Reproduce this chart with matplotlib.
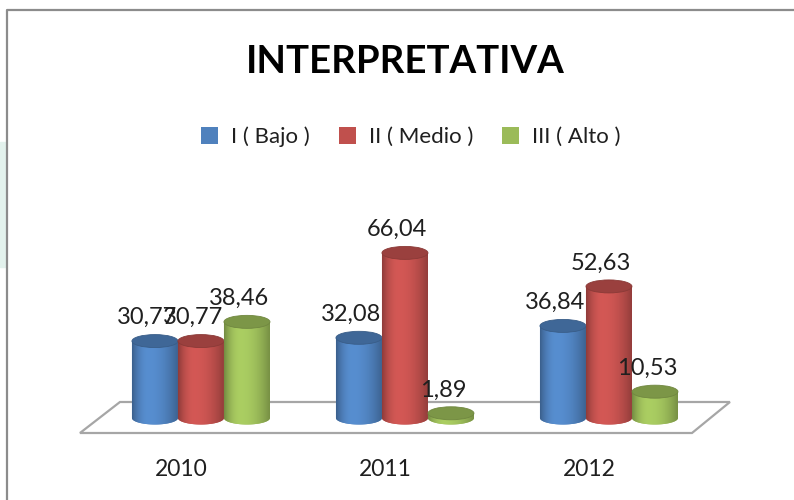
import numpy as np
import matplotlib
matplotlib.use('Agg')
import matplotlib.pyplot as plt
from matplotlib.patches import Ellipse, Patch, Rectangle
from matplotlib.lines import Line2D
from matplotlib.colors import to_rgb

# data
years = ['2010', '2011', '2012']
series = ['I ( Bajo )', 'II ( Medio )', 'III ( Alto )']
bajo = [30.77, 32.08, 36.84]
medio = [30.77, 66.04, 52.63]
alto = [38.46, 1.89, 10.53]
colors = ['#4F81BD', '#C0504D', '#9BBB59']


def fmt(v):
    return f'{v:.2f}'.replace('.', ',')


plt.rcParams['font.family'] = ['Lato', 'DejaVu Sans']

fig = plt.figure(figsize=(7.94, 5.0), dpi=100)
ax = fig.add_axes([0, 0, 1, 1])
ax.axis('off')

w = 0.2255   # cylinder width (category units)
b = 2.6      # half height of the ellipses (value units)

# floor of the 3d plot
floor = plt.Polygon([(-0.397, 6.4), (2.593, 6.4), (2.407, -6.0), (-0.593, -6.0)],
                    closed=True, facecolor='white', edgecolor='#a6a6a6', lw=1.6, zorder=1)
ax.add_patch(floor)

# horizontal shading across a cylinder
t = np.linspace(0, 1, 200)
d = np.where(t < 0.35, (0.35 - t) / 0.35, (t - 0.35) / 0.65)
shade = 0.74 + 0.36 * (1 - d**2)

x = np.arange(len(years))
for k, (vals, c) in enumerate(zip([bajo, medio, alto], colors)):
    base = np.array(to_rgb(c))
    bars = ax.bar(x + (k - 1) * w, vals, w, color=c, zorder=2 + k)
    for bar, v in zip(bars, vals):
        z = 2 + k
        x0 = bar.get_x()
        x1 = x0 + bar.get_width()
        h = bar.get_height()
        cx = (x0 + x1) / 2
        th = np.linspace(np.pi, 2 * np.pi, 40)
        arc = np.column_stack([cx + w / 2 * np.cos(th), b * np.sin(th)])
        verts = np.vstack([arc, [[x1, h], [x0, h]]])
        body = plt.Polygon(verts, closed=True, facecolor=c, edgecolor='none', zorder=z)
        ax.add_patch(body)
        grad = np.clip(base[None, :] * shade[:, None], 0, 1)[None, :, :]
        im = ax.imshow(grad, extent=(x0, x1, -b, h), aspect='auto',
                       interpolation='bilinear', zorder=z + 0.01)
        im.set_clip_path(body)
        top = Ellipse((cx, h), w, 2 * b, facecolor=np.clip(base * 0.8, 0, 1),
                      edgecolor=np.clip(base * 0.72, 0, 1), lw=0.6, zorder=z + 0.02)
        ax.add_patch(top)
        ax.text(cx - 0.04, h + 9.3, fmt(v), ha='center', va='center',
                fontsize=17, color='#1f1f1f', zorder=10)

for i, yr in enumerate(years):
    ax.text(i - 0.098, -20.8, yr, ha='center', va='center', fontsize=16.5, color='#1f1f1f')

ax.set_xlim(-0.985, 2.907)
ax.set_ylim(-32.8, 167.2)

# legend
handles = [Patch(facecolor=c, edgecolor='none') for c in colors]
fig.legend(handles, series, loc='center', bbox_to_anchor=(411 / 794, 1 - 137 / 500),
           ncol=3, frameon=False, fontsize=16, handlelength=0.75, handleheight=0.75,
           handletextpad=0.6, columnspacing=1.3, labelcolor='#1f1f1f')

# title
fig.text(405.5 / 794, 1 - 62 / 500, 'INTERPRETATIVA', ha='center', va='center',
         fontsize=27.6, fontweight='bold', color='black')

# chart frame and the strip left of it
fig.add_artist(Rectangle((0, 1 - 267 / 500), 5 / 794, 125 / 500, color='#e3f2ed',
                         transform=fig.transFigure, zorder=0))
fig.add_artist(Line2D([6.5 / 794, 6.5 / 794, 1], [0, 1 - 10 / 500, 1 - 10 / 500],
                      color='#8c8c8c', lw=1.6, transform=fig.transFigure))

fig.savefig('out.png', dpi=100)
